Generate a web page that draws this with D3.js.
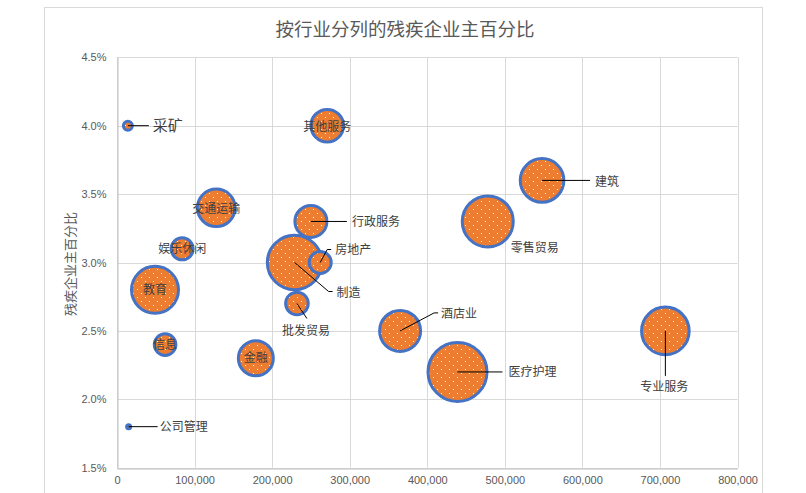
<!DOCTYPE html>
<html><head><meta charset="utf-8">
<script src="https://cdn.jsdelivr.net/npm/d3@7"></script>
<style>body{margin:0;background:#fff;} svg{display:block;}</style>
</head><body>
<script>
// ---- data ----
const industries = ["采矿","其他服务","建筑","交通运输","行政服务","零售贸易","娱乐休闲","房地产","制造","教育","批发贸易","酒店业","专业服务","信息","金融","医疗护理","公司管理"];
const employers  = [14000,271000,548000,128000,250000,478000,84000,262000,229000,49000,232000,365000,707000,62000,179000,439000,15000];
const pctDisabled = [0.040,0.040,0.036,0.034,0.033,0.033,0.031,0.030,0.030,0.028,0.027,0.025,0.025,0.024,0.023,0.022,0.018];
const bubbleSize = [230,3050,5460,4060,2940,7470,1390,1390,8560,6350,1470,4830,6510,1340,3520,10000,46];
const xTicks = [0,100000,200000,300000,400000,500000,600000,700000,800000];
const yTicks = [0.015,0.020,0.025,0.030,0.035,0.040,0.045];
const titleText = "按行业分列的残疾企业主百分比";
const yTitle = "残疾企业主百分比";

// ---- label layout (pixel offsets from bubble centre) ----
const labelLayout = {
 "采矿": {leader:[[21,0]], dx:25, dy:0, anchor:"start", size:15},
 "其他服务": {dx:0, dy:1, anchor:"middle"},
 "建筑": {leader:[[48,0]], dx:53, dy:1, anchor:"start"},
 "交通运输": {dx:0, dy:1, anchor:"middle"},
 "行政服务": {leader:[[36,0]], dx:41, dy:0, anchor:"start"},
 "零售贸易": {dx:47, dy:26, anchor:"middle"},
 "娱乐休闲": {dx:0, dy:0, anchor:"middle"},
 "房地产": {leader:[[7,-13],[11,-13]], dx:15, dy:-13, anchor:"start"},
 "制造": {leader:[[34,29],[38,29]], dx:42, dy:30, anchor:"start"},
 "教育": {dx:0, dy:0, anchor:"middle"},
 "批发贸易": {leader:[[10,15]], dx:9, dy:27, anchor:"middle"},
 "酒店业": {leader:[[34,-18],[38,-18]], dx:41, dy:-17, anchor:"start"},
 "专业服务": {leader:[[0,45]], dx:-1, dy:56, anchor:"middle"},
 "信息": {dx:0, dy:0, anchor:"middle"},
 "金融": {dx:0, dy:0, anchor:"middle"},
 "医疗护理": {leader:[[45,0]], dx:51, dy:0, anchor:"start"},
 "公司管理": {leader:[[29,0]], dx:31, dy:0, anchor:"start"}
};

const W = 806, H = 493;
const plot = {left:117, right:737.5, top:57.3, bottom:467.7};
const cjk = "'Noto Sans CJK SC','Noto Sans',sans-serif";
const latin = "'Liberation Sans','DejaVu Sans',sans-serif";

const svg = d3.select("body").append("svg").attr("width", W).attr("height", H);

const defs = svg.append("defs");
const pat = defs.append("pattern").attr("id","dots").attr("patternUnits","userSpaceOnUse")
  .attr("width",8).attr("height",8);
pat.append("rect").attr("width",8).attr("height",8).attr("fill","#ED7D31");
pat.append("rect").attr("x",1).attr("y",1).attr("width",1).attr("height",1).attr("fill","#fff");
pat.append("rect").attr("x",5).attr("y",5).attr("width",1).attr("height",1).attr("fill","#fff");

// chart frame
svg.append("rect").attr("x",44.5).attr("y",7.5).attr("width",718).attr("height",520)
  .attr("fill","none").attr("stroke","#d9d9d9");

const x = d3.scaleLinear().domain([0,800000]).range([plot.left, plot.right]);
const y = d3.scaleLinear().domain([0.015,0.045]).range([plot.bottom, plot.top]);
const r = d3.scaleSqrt().domain([0,10000]).range([0,29.5]);

// gridlines
svg.append("g").selectAll("line").data(yTicks).join("line")
  .attr("x1",plot.left).attr("x2",plot.right)
  .attr("y1",d=>Math.round(y(d))+0.5).attr("y2",d=>Math.round(y(d))+0.5)
  .attr("stroke","#d9d9d9");
svg.append("g").selectAll("line").data(xTicks).join("line")
  .attr("y1",plot.top).attr("y2",plot.bottom)
  .attr("x1",d=>Math.round(x(d))+0.5).attr("x2",d=>Math.round(x(d))+0.5)
  .attr("stroke","#d9d9d9");

// axes
const xAxis = d3.axisBottom(x).tickValues(xTicks).tickFormat(d3.format(",")).tickSize(0).tickPadding(8);
const yAxis = d3.axisLeft(y).tickValues(yTicks).tickFormat(d3.format(".1%")).tickSize(0).tickPadding(11);
const gx = svg.append("g").attr("transform",`translate(0,${Math.round(plot.bottom)+0.5})`).call(xAxis);
const gy = svg.append("g").attr("transform",`translate(${Math.round(plot.left)+0.5},0)`).call(yAxis);
[gx,gy].forEach(g=>{
  g.select(".domain").attr("stroke","#bfbfbf");
  g.selectAll("text").attr("fill","#595959").style("font-family",latin).style("font-size","11px");
});

// title
svg.append("text").attr("x",405).attr("y",30).attr("dy","0.35em").attr("text-anchor","middle")
  .style("font-family",cjk).style("font-size","18.5px").attr("fill","#595959").text(titleText);
svg.append("text").attr("transform","translate(70,264) rotate(-90)").attr("dy","0.35em")
  .attr("text-anchor","middle").style("font-family",cjk).style("font-size","13px")
  .attr("fill","#595959").text(yTitle);

const data = industries.map((n,i)=>({name:n, x:employers[i], y:pctDisabled[i], s:bubbleSize[i]}));
const sorted = data.slice().sort((a,b)=>b.s-a.s);

svg.append("g").selectAll("circle").data(sorted).join("circle")
  .attr("cx",d=>x(d.x)).attr("cy",d=>y(d.y)).attr("r",d=>r(d.s))
  .attr("fill","url(#dots)").attr("stroke","#4472C4").attr("stroke-width",3);

// labels
const lg = svg.append("g");
data.forEach(d=>{
  const L = labelLayout[d.name]; const cx = x(d.x), cy = y(d.y);
  if (L.leader) {
    const pts = [[cx,cy]].concat(L.leader.map(p=>[cx+p[0],cy+p[1]]));
    lg.append("path").attr("d",d3.line()(pts)).attr("fill","none").attr("stroke","#000").attr("stroke-width",1);
  }
  lg.append("text").attr("x",cx+L.dx).attr("y",cy+L.dy).attr("dy","0.35em")
    .attr("text-anchor",L.anchor).style("font-family",cjk).style("font-size",(L.size||12)+"px")
    .attr("fill","#404040").text(d.name);
});
</script>
</body></html>
